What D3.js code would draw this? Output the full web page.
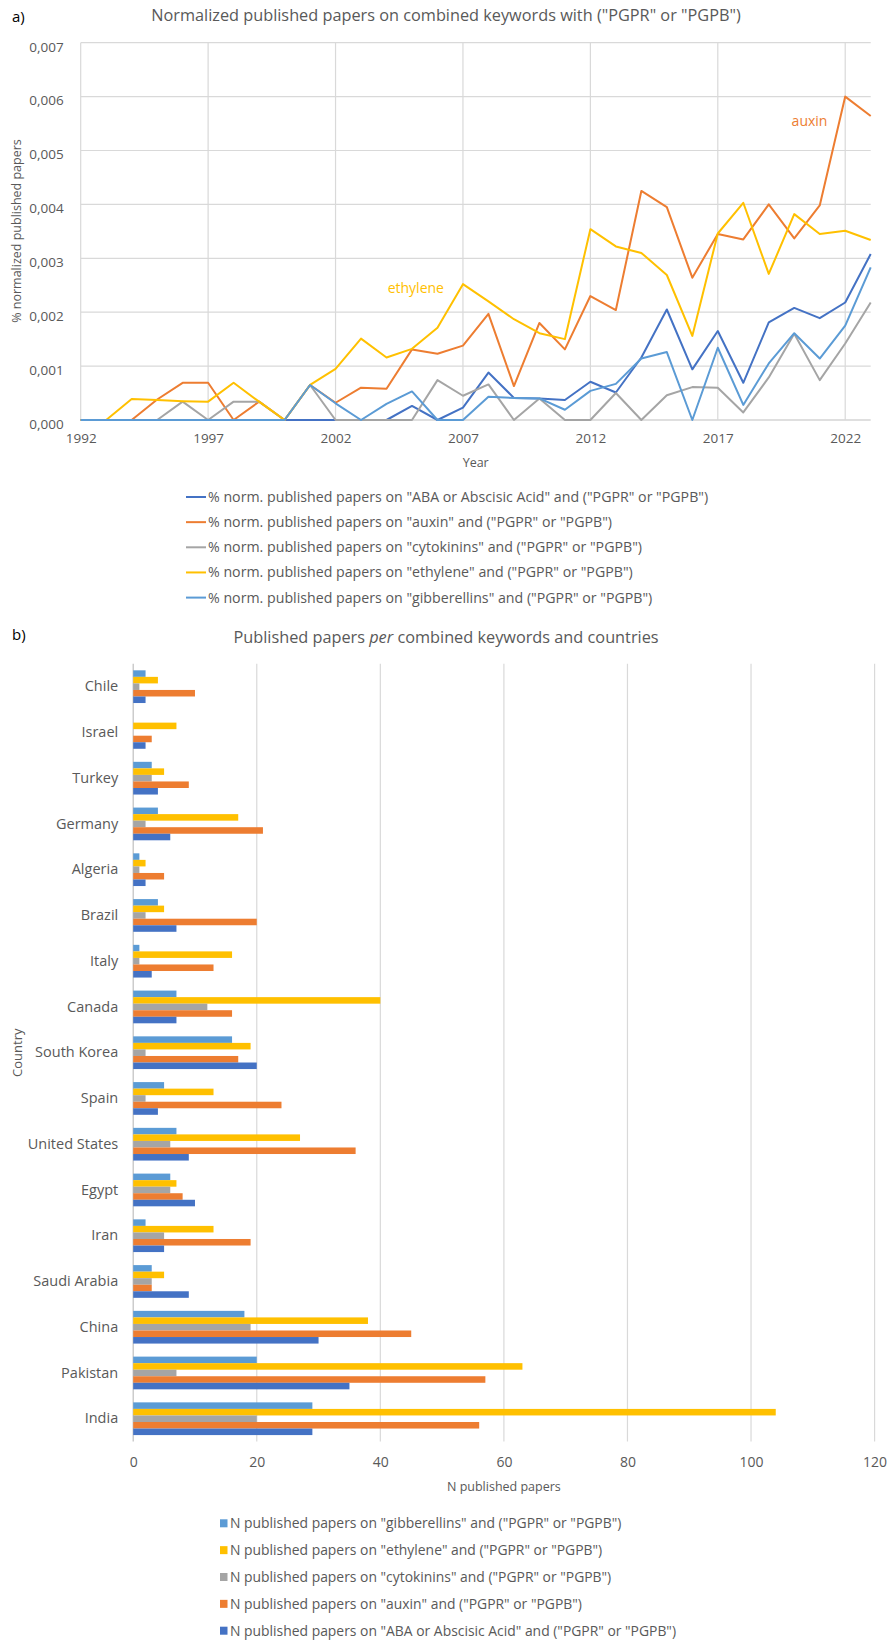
<!DOCTYPE html>
<html>
<head>
<meta charset="utf-8">
<script src="https://cdn.jsdelivr.net/npm/d3@7"></script>
<style>
  body { margin: 0; background: #fff; }
  svg text { font-family: "Open Sans", sans-serif; }
</style>
</head>
<body>
<script>
// ---- Panel a: normalized published papers per year ----
const years = [1992, 1993, 1994, 1995, 1996, 1997, 1998, 1999, 2000, 2001, 2002,
  2003, 2004, 2005, 2006, 2007, 2008, 2009, 2010, 2011, 2012, 2013, 2014, 2015,
  2016, 2017, 2018, 2019, 2020, 2021, 2022, 2023];

const abaNorm = [0, 0, 0, 0, 0, 0, 0, 0, 0, 0, 0, 0, 0, 0.00026, 0, 0.00023,
  0.00088, 0.00041, 0.0004, 0.00037, 0.00071, 0.00051, 0.00116, 0.00205, 0.00094,
  0.00165, 0.00069, 0.00181, 0.00208, 0.00189, 0.00218, 0.00308];
const auxinNorm = [0, 0, 0, 0.00038, 0.00069, 0.00069, 0, 0.00034, 0, 0.00065,
  0.00032, 0.0006, 0.00058, 0.00131, 0.00123, 0.00138, 0.00197, 0.00063, 0.0018,
  0.00131, 0.0023, 0.00204, 0.00425, 0.00395, 0.00264, 0.00345, 0.00335, 0.004,
  0.00337, 0.00398, 0.006, 0.00564];
const cytoNorm = [0, 0, 0, 0, 0.00034, 0, 0.00034, 0.00034, 0, 0.00065, 0, 0, 0,
  0, 0.00074, 0.00045, 0.00066, 0, 0.0004, 0, 0, 0.0005, 0, 0.00046, 0.00061,
  0.0006, 0.00014, 0.00079, 0.0016, 0.00074, 0.00142, 0.00218];
const ethyleneNorm = [0, 0, 0.00039, 0.00037, 0.00035, 0.00034, 0.00069, 0.00034,
  0, 0.00065, 0.00095, 0.00151, 0.00116, 0.00132, 0.00171, 0.00252, 0.0022,
  0.00187, 0.00161, 0.0015, 0.00354, 0.00322, 0.0031, 0.00269, 0.00156, 0.00346,
  0.00403, 0.00271, 0.00382, 0.00345, 0.00351, 0.00334];
const gibNorm = [0, 0, 0, 0, 0, 0, 0, 0, 0, 0.00065, 0.00031, 0, 0.0003, 0.00053,
  0, 0, 0.00043, 0.00041, 0.0004, 0.00019, 0.00054, 0.00067, 0.00114, 0.00126, 0,
  0.00134, 0.00028, 0.00105, 0.00161, 0.00114, 0.00175, 0.00283];

const lineLabels = [
  '% norm. published papers on "ABA or Abscisic Acid" and ("PGPR" or "PGPB")',
  '% norm. published papers on "auxin" and ("PGPR" or "PGPB")',
  '% norm. published papers on "cytokinins" and ("PGPR" or "PGPB")',
  '% norm. published papers on "ethylene" and ("PGPR" or "PGPB")',
  '% norm. published papers on "gibberellins" and ("PGPR" or "PGPB")',
];
const lineTicksY = [0, 0.001, 0.002, 0.003, 0.004, 0.005, 0.006, 0.007];
const lineTicksX = [1992, 1997, 2002, 2007, 2012, 2017, 2022];

// ---- Panel b: published papers per country ----
const countries = ["Chile", "Israel", "Turkey", "Germany", "Algeria", "Brazil",
  "Italy", "Canada", "South Korea", "Spain", "United States", "Egypt", "Iran",
  "Saudi Arabia", "China", "Pakistan", "India"];

const gibCount = [2, 0, 3, 4, 1, 4, 1, 7, 16, 5, 7, 6, 2, 3, 18, 20, 29];
const ethyleneCount = [4, 7, 5, 17, 2, 5, 16, 40, 19, 13, 27, 7, 13, 5, 38, 63, 104];
const cytoCount = [1, 0, 3, 2, 1, 2, 1, 12, 2, 2, 6, 6, 5, 3, 19, 7, 20];
const auxinCount = [10, 3, 9, 21, 5, 20, 13, 16, 17, 24, 36, 8, 19, 3, 45, 57, 56];
const abaCount = [2, 2, 4, 6, 2, 7, 3, 7, 20, 4, 9, 10, 5, 9, 30, 35, 29];

const barLabels = [
  'N published papers on "gibberellins" and ("PGPR" or "PGPB")',
  'N published papers on "ethylene" and ("PGPR" or "PGPB")',
  'N published papers on "cytokinins" and ("PGPR" or "PGPB")',
  'N published papers on "auxin" and ("PGPR" or "PGPB")',
  'N published papers on "ABA or Abscisic Acid" and ("PGPR" or "PGPB")',
];
const barTicks = [0, 20, 40, 60, 80, 100, 120];

// Colours (Office palette)
const colors = {
  aba: "#4472C4",
  auxin: "#ED7D31",
  cyto: "#A5A5A5",
  ethylene: "#FFC000",
  gib: "#5B9BD5",
};
const textColor = "#595959";
const gridColor = "#d9d9d9";

const svg = d3
  .select("body")
  .append("svg")
  .attr("width", 890)
  .attr("height", 1641);

// Draw panel a
const drawLineChart = () => {
  const left = 80.7;
  const right = 870.7;
  const top = 42.7;
  const bottom = 420;

  const x = d3.scaleLinear().domain([1992, 2023]).range([left, right]);
  const y = d3.scaleLinear().domain([0, 0.007]).range([bottom, top]);

  // Panel letter and title
  svg.append("text").attr("x", 12).attr("y", 22)
    .style("font-size", "15px").style("fill", "#000").text("a)");

  svg.append("text")
    .attr("x", 446).attr("y", 21)
    .attr("text-anchor", "middle")
    .style("font-size", "16.3px")
    .style("fill", textColor)
    .text('Normalized published papers on combined keywords with ("PGPR" or "PGPB")');

  // Gridlines
  svg.append("g").selectAll("line")
    .data(lineTicksY)
    .join("line")
    .attr("x1", left).attr("x2", right)
    .attr("y1", (d) => y(d)).attr("y2", (d) => y(d))
    .attr("stroke", (d) => (d === 0 ? "#bfbfbf" : gridColor))
    .attr("stroke-width", 1.2);

  svg.append("g").selectAll("line")
    .data(lineTicksX)
    .join("line")
    .attr("x1", (d) => x(d)).attr("x2", (d) => x(d))
    .attr("y1", top).attr("y2", bottom)
    .attr("stroke", gridColor)
    .attr("stroke-width", 1.2);

  // Axes
  const yAxis = svg.append("g")
    .attr("transform", `translate(${left},0)`)
    .call(
      d3.axisLeft(y)
        .tickValues(lineTicksY)
        .tickSize(0)
        .tickPadding(17)
        .tickFormat((d) => d3.format(".3f")(d).replace(".", ","))
    );
  yAxis.select(".domain").remove();
  yAxis.selectAll("text")
    .attr("dy", "0.62em")
    .style("font-size", "13.5px")
    .style("fill", textColor);

  const xAxis = svg.append("g")
    .attr("transform", `translate(0,${bottom})`)
    .call(
      d3.axisBottom(x)
        .tickValues(lineTicksX)
        .tickSize(0)
        .tickPadding(13)
        .tickFormat(d3.format("d"))
    );
  xAxis.select(".domain").remove();
  xAxis.selectAll("text")
    .style("font-size", "13.5px")
    .style("fill", textColor);

  // Axis titles
  svg.append("text")
    .attr("transform", "rotate(-90)")
    .attr("x", -231).attr("y", 21)
    .attr("text-anchor", "middle")
    .style("font-size", "12.5px")
    .style("fill", textColor)
    .text("% normalized published papers");

  svg.append("text")
    .attr("x", (left + right) / 2).attr("y", 467)
    .attr("text-anchor", "middle")
    .style("font-size", "12.5px")
    .style("fill", textColor)
    .text("Year");

  // Lines
  const series = [
    { values: abaNorm, color: colors.aba },
    { values: auxinNorm, color: colors.auxin },
    { values: cytoNorm, color: colors.cyto },
    { values: ethyleneNorm, color: colors.ethylene },
    { values: gibNorm, color: colors.gib },
  ];

  const line = d3.line()
    .x((d, i) => x(years[i]))
    .y((d) => y(d));

  svg.append("g").selectAll("path")
    .data(series)
    .join("path")
    .attr("d", (d) => line(d.values))
    .attr("fill", "none")
    .attr("stroke", (d) => d.color)
    .attr("stroke-width", 2)
    .attr("stroke-linejoin", "round");

  // Inline labels
  svg.append("text")
    .attr("x", x(2020.6)).attr("y", y(0.00555))
    .attr("dy", "0.35em")
    .attr("text-anchor", "middle")
    .style("font-size", "14px")
    .style("fill", colors.auxin)
    .text("auxin");

  svg.append("text")
    .attr("x", x(2005.15)).attr("y", y(0.00245))
    .attr("dy", "0.35em")
    .attr("text-anchor", "middle")
    .style("font-size", "14px")
    .style("fill", colors.ethylene)
    .text("ethylene");

  // Legend
  const legend = svg.append("g").selectAll("g")
    .data(series)
    .join("g")
    .attr("transform", (d, i) => `translate(186,${497 + i * 25.15})`);

  legend.append("line")
    .attr("x1", 0).attr("x2", 20)
    .attr("stroke", (d) => d.color)
    .attr("stroke-width", 2);

  legend.append("text")
    .attr("x", 22)
    .attr("dy", "0.35em")
    .style("font-size", "14.2px")
    .style("fill", textColor)
    .text((d, i) => lineLabels[i]);
};

// Draw panel b
const drawBarChart = () => {
  const left = 133.2;
  const right = 874.6;
  const top = 663.8;
  const bottom = 1441.6;

  const x = d3.scaleLinear().domain([0, 120]).range([left, right]);

  const y0 = d3.scaleBand()
    .domain(countries)
    .range([top, bottom])
    .paddingInner(0.285)
    .paddingOuter(0.1425);

  const series = [
    { values: gibCount, color: colors.gib },
    { values: ethyleneCount, color: colors.ethylene },
    { values: cytoCount, color: colors.cyto },
    { values: auxinCount, color: colors.auxin },
    { values: abaCount, color: colors.aba },
  ];

  const y1 = d3.scaleBand()
    .domain(d3.range(series.length))
    .range([0, y0.bandwidth()]);

  // Panel letter and title
  svg.append("text").attr("x", 12).attr("y", 640)
    .style("font-size", "15px").style("fill", "#000").text("b)");

  const title = svg.append("text")
    .attr("x", 446).attr("y", 643)
    .attr("text-anchor", "middle")
    .style("font-size", "16.3px")
    .style("fill", textColor);
  title.append("tspan").text("Published papers ");
  title.append("tspan").style("font-style", "italic").text("per");
  title.append("tspan").text(" combined keywords and countries");

  // Vertical gridlines
  svg.append("g").selectAll("line")
    .data(barTicks)
    .join("line")
    .attr("x1", (d) => x(d)).attr("x2", (d) => x(d))
    .attr("y1", top).attr("y2", bottom)
    .attr("stroke", (d) => (d === 0 ? "#bfbfbf" : gridColor))
    .attr("stroke-width", 1.2);

  // Bars
  const groups = svg.append("g").selectAll("g")
    .data(countries)
    .join("g")
    .attr("transform", (d) => `translate(0,${y0(d)})`);

  groups.selectAll("rect")
    .data((c, ci) => series.map((s, si) => ({ si, value: s.values[ci], color: s.color })))
    .join("rect")
    .attr("x", x(0))
    .attr("y", (d) => y1(d.si))
    .attr("width", (d) => x(d.value) - x(0))
    .attr("height", y1.bandwidth())
    .attr("fill", (d) => d.color);

  // Axes
  const yAxis = svg.append("g")
    .attr("transform", `translate(${left},0)`)
    .call(d3.axisLeft(y0).tickSize(0).tickPadding(15));
  yAxis.select(".domain").remove();
  yAxis.selectAll("text")
    .style("font-size", "14.5px")
    .style("fill", textColor);

  const xAxis = svg.append("g")
    .attr("transform", `translate(0,${bottom})`)
    .call(d3.axisBottom(x).tickValues(barTicks).tickSize(0).tickPadding(15));
  xAxis.select(".domain").remove();
  xAxis.selectAll("text")
    .style("font-size", "14px")
    .style("fill", textColor);

  // Axis titles
  svg.append("text")
    .attr("transform", "rotate(-90)")
    .attr("x", -(top + bottom) / 2).attr("y", 22)
    .attr("text-anchor", "middle")
    .style("font-size", "13px")
    .style("fill", textColor)
    .text("Country");

  svg.append("text")
    .attr("x", (left + right) / 2).attr("y", 1491)
    .attr("text-anchor", "middle")
    .style("font-size", "12.5px")
    .style("fill", textColor)
    .text("N published papers");

  // Legend
  const legend = svg.append("g").selectAll("g")
    .data(series)
    .join("g")
    .attr("transform", (d, i) => `translate(220,${1523.3 + i * 26.85})`);

  legend.append("rect")
    .attr("x", 0).attr("y", -4)
    .attr("width", 7.5).attr("height", 8)
    .attr("fill", (d) => d.color);

  legend.append("text")
    .attr("x", 10)
    .attr("dy", "0.35em")
    .style("font-size", "13.9px")
    .style("fill", textColor)
    .text((d, i) => barLabels[i]);
};

drawLineChart();
drawBarChart();
</script>
</body>
</html>
